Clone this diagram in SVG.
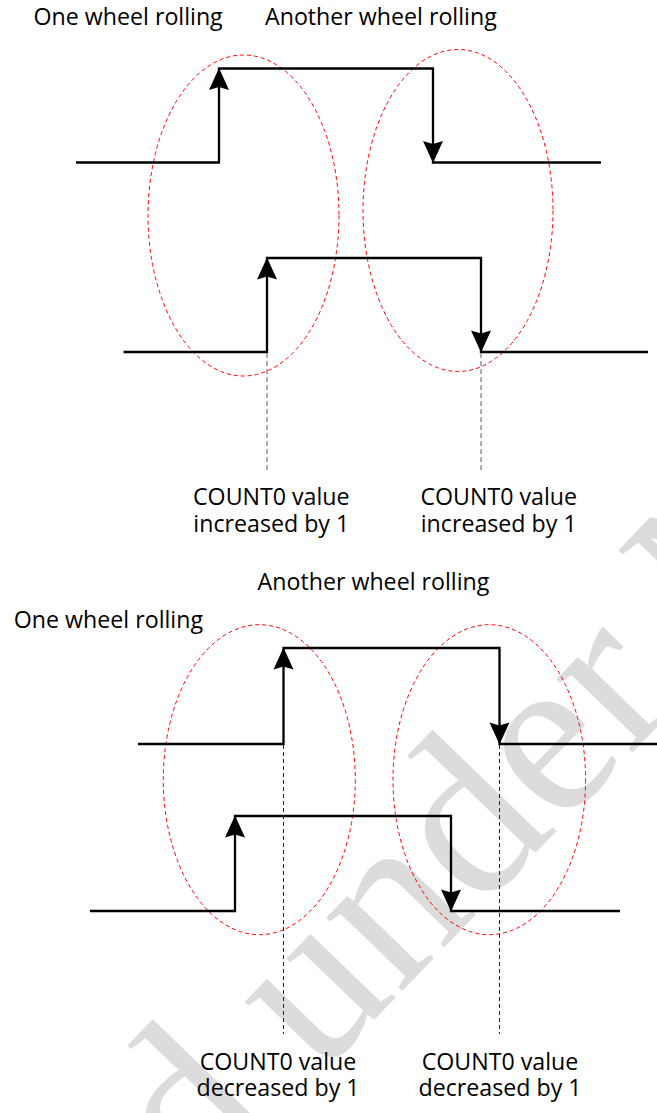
<svg xmlns="http://www.w3.org/2000/svg" width="657" height="1113" viewBox="0 0 657 1113">
  <style>
    .wave { fill: none; stroke: #000; stroke-width: 2.3; stroke-linejoin: miter; }
    .ell { fill: none; stroke: #ff0000; stroke-width: 1; stroke-dasharray: 4 3; }
    .guide-top { stroke: #7a7a7a; stroke-width: 1.2; stroke-dasharray: 5 3; }
    .guide-bot { stroke: #222; stroke-width: 1; stroke-dasharray: 4 3; }
    .lbl { font-family: "Open Sans", "Noto Sans", sans-serif; font-size: 23.2px; fill: #000; }
    .mid { text-anchor: middle; }
    .wm { font-family: "Liberation Serif", "DejaVu Serif", serif; font-size: 230px; fill: #dcdcdc; }
  </style>
  <defs>
    <path id="arrowUp" d="M0,0 L10,22 L0,19 L-10,22 Z" fill="#000"/>
    <path id="arrowDown" d="M0,0 L10,-22 L0,-19 L-10,-22 Z" fill="#000"/>
  </defs>
  <rect width="657" height="1113" fill="#fff"/>

  <g id="watermark">
    <text class="wm" transform="translate(-298,1716) rotate(-46)" x="0" y="0">Released under NDA</text>
  </g>

  <g id="section-increase">
    <g id="label-one-top"><text class="lbl" x="33.5" y="25">One wheel rolling</text></g>
    <g id="label-another-top"><text class="lbl" x="265" y="25">Another wheel rolling</text></g>
    <g id="ellipse-1"><ellipse class="ell" cx="243.5" cy="215.5" rx="95.5" ry="160.5"/></g>
    <g id="ellipse-2"><ellipse class="ell" cx="458" cy="210.5" rx="95" ry="161"/></g>
    <g id="wave-1">
      <path class="wave" d="M76,162.5 H219 V68.5 H433 V162.5 H601"/>
      <use href="#arrowUp" x="219" y="68"/>
      <use href="#arrowDown" x="433" y="163"/>
    </g>
    <g id="wave-2">
      <path class="wave" d="M123.5,352 H267 V258 H481 V352 H648"/>
      <use href="#arrowUp" x="267" y="257.5"/>
      <use href="#arrowDown" x="481" y="352.5"/>
    </g>
    <g id="count-inc-1">
      <text class="lbl mid" x="271.3" y="505">COUNT0 value</text>
      <text class="lbl mid" x="271.3" y="531.5">increased by 1</text>
    </g>
    <g id="count-inc-2">
      <text class="lbl mid" x="498.7" y="505">COUNT0 value</text>
      <text class="lbl mid" x="498.7" y="531.5">increased by 1</text>
    </g>
  </g>

  <g id="section-decrease">
    <g id="label-another-bot"><text class="lbl" x="257.6" y="590">Another wheel rolling</text></g>
    <g id="label-one-bot"><text class="lbl" x="13.8" y="628.3">One wheel rolling</text></g>
    <g id="ellipse-3"><ellipse class="ell" cx="259.3" cy="779.7" rx="96" ry="155"/></g>
    <g id="ellipse-4"><ellipse class="ell" cx="489.3" cy="779.7" rx="96.3" ry="155"/></g>
    <g id="wave-3">
      <path class="wave" d="M138,744 H283.5 V648 H499.5 V744 H657"/>
      <use href="#arrowUp" x="283.5" y="647.5"/>
      <use href="#arrowDown" x="499.5" y="744.5"/>
    </g>
    <g id="wave-4">
      <path class="wave" d="M90,911 H235 V816 H451 V911 H620"/>
      <use href="#arrowUp" x="235" y="815.5"/>
      <use href="#arrowDown" x="451" y="911.5"/>
    </g>
    <g id="count-dec-1">
      <text class="lbl mid" x="278" y="1070">COUNT0 value</text>
      <text class="lbl mid" x="278" y="1096">decreased by 1</text>
    </g>
    <g id="count-dec-2">
      <text class="lbl mid" x="500" y="1070">COUNT0 value</text>
      <text class="lbl mid" x="500" y="1096">decreased by 1</text>
    </g>
  </g>

  <g id="connectors">
    <line class="guide-top" x1="267" y1="353" x2="267" y2="473"/>
    <line class="guide-top" x1="481" y1="353" x2="481" y2="473"/>
    <line class="guide-bot" x1="283.5" y1="745" x2="283.5" y2="1034"/>
    <line class="guide-bot" x1="499.5" y1="745" x2="499.5" y2="1034"/>
  </g>
</svg>
